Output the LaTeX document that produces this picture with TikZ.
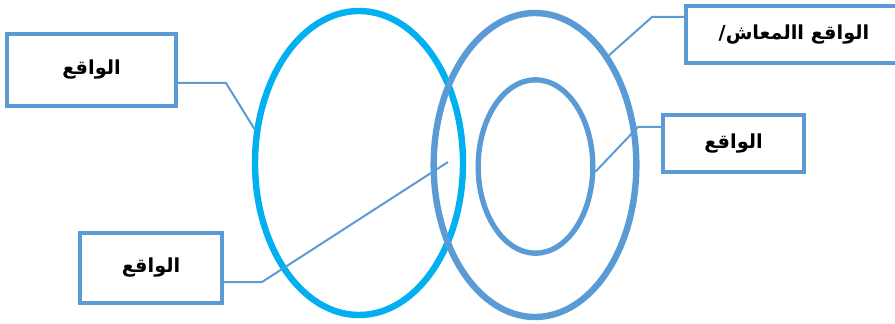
\documentclass[tikz,border=0pt]{standalone}
\usepackage{fontspec}
\TeXXeTstate=1
\newfontfamily\arabicfont[Script=Arabic]{DejaVu Sans}
\usetikzlibrary{shapes.geometric}
\definecolor{cyanring}{HTML}{00B0F0}
\definecolor{bluering}{HTML}{5B9BD5}
\begin{document}
\begin{tikzpicture}[x=0.75pt,y=-0.75pt,
  ring/.style={ellipse,draw,inner sep=0pt},
  labelbox/.style={draw=bluering,line width=2.4pt,fill=white,inner sep=0pt,
    font=\arabicfont\bfseries\fontsize{14.5}{17}\selectfont},
  link/.style={draw=bluering,line width=1.5pt}]
\useasboundingbox (0,0) rectangle (895,324);
% ellipses
\node[ring,draw=cyanring,line width=4.8pt,minimum width=156pt,minimum height=228pt] (L) at (359,163) {};
\node[ring,draw=bluering,line width=4.8pt,minimum width=152pt,minimum height=228pt] (R) at (535,165) {};
\node[ring,draw=bluering,line width=4pt,minimum width=86pt,minimum height=130pt] (I) at (535.5,166.5) {};
% boxes
\node[labelbox,minimum width=126.75pt,minimum height=54pt] (B1) at (91.5,70) {\beginR الواقع\endR};
\node[labelbox,minimum width=162pt,minimum height=42.75pt] (B2) at (794,34.5) {\beginR الواقع االمعاش/\endR};
\node[labelbox,minimum width=105.75pt,minimum height=42.75pt] (B3) at (733.5,143.5) {\beginR الواقع\endR};
\node[labelbox,minimum width=106.5pt,minimum height=52.5pt] (B4) at (151,268) {\beginR الواقع\endR};
% connector bends
\coordinate (k1) at (226,83);
\coordinate (k2) at (652,17);
\coordinate (k3) at (638,127);
\coordinate (k4) at (262,282);
\coordinate (e4) at (448,162);
% connectors
\path[link] (B1.east |- k1) -- (k1) -- (L.162);
\path[link] (B2.west |- k2) -- (k2) -- (R.56);
\path[link] (B3.west |- k3) -- (k3) -- (I.-5);
\path[link] (B4.east |- k4) -- (k4) -- (e4);
\end{tikzpicture}
\end{document}
